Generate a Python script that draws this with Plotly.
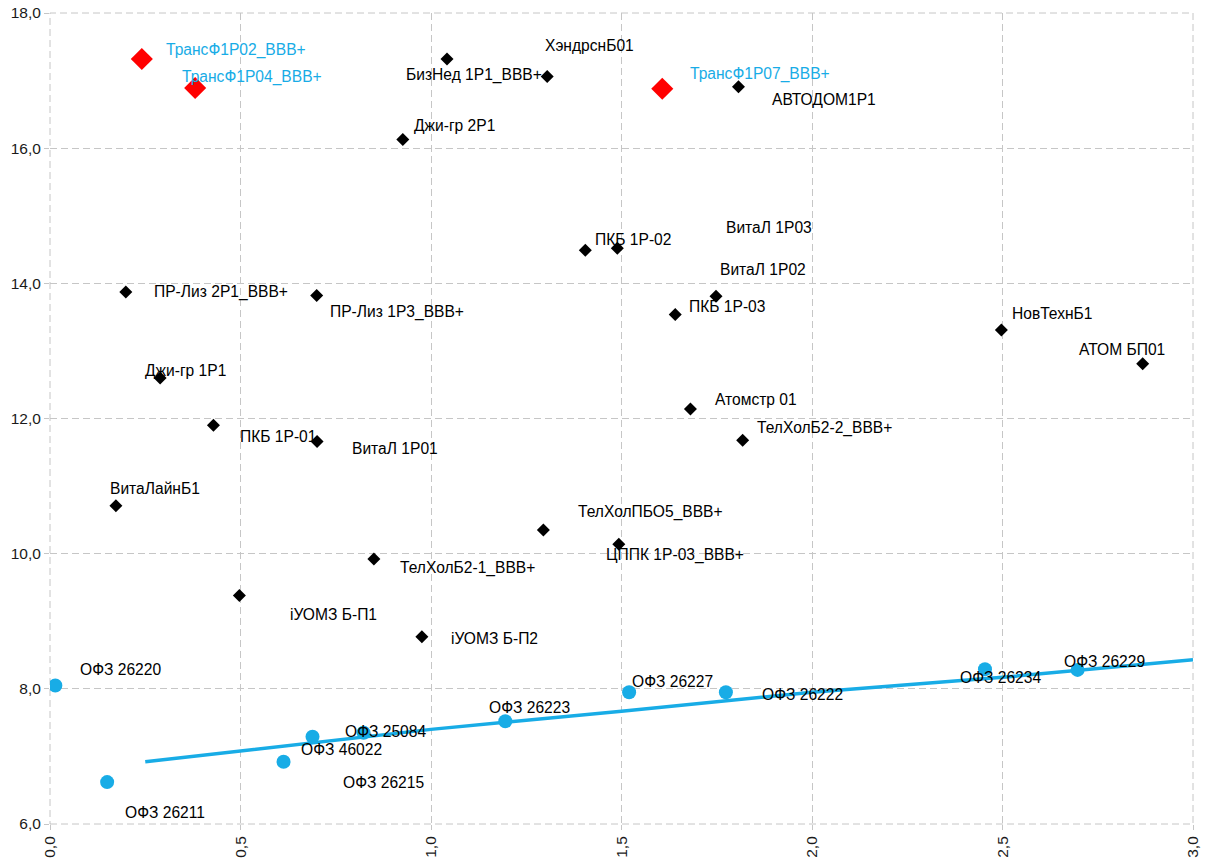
import plotly.graph_objects as go

# ---- data ----
trans_names = ["ТрансФ1Р02_BBB+", "ТрансФ1Р04_BBB+", "ТрансФ1Р07_BBB+"]
trans_x = [0.241, 0.381, 1.607]
trans_y = [17.32, 16.89, 16.88]

corp_names = ["БизНед 1Р1_BBB+", "ХэндрснБ01", "АВТОДОМ1Р1", "Джи-гр 2Р1",
              "ПКБ 1Р-02", "ВитаЛ 1Р03", "ВитаЛ 1Р02", "ПКБ 1Р-03",
              "ПР-Лиз 2Р1_BBB+", "ПР-Лиз 1Р3_BBB+", "НовТехнБ1", "АТОМ БП01",
              "Джи-гр 1Р1", "Атомстр 01", "ПКБ 1Р-01", "ВитаЛ 1Р01",
              "ТелХолБ2-2_BBB+", "ВитаЛайнБ1", "ТелХолПБО5_BBB+", "ЦППК 1Р-03_BBB+",
              "ТелХолБ2-1_BBB+", "iУОМЗ Б-П1", "iУОМЗ Б-П2"]
corp_x = [1.042, 1.305, 1.807, 0.926,
          1.405, 1.489, 1.748, 1.641,
          0.199, 0.700, 2.497, 2.868,
          0.289, 1.681, 0.429, 0.701,
          1.818, 0.173, 1.295, 1.493,
          0.850, 0.497, 0.976]
corp_y = [17.32, 17.06, 16.91, 16.13,
          14.49, 14.52, 13.81, 13.54,
          13.87, 13.82, 13.31, 12.81,
          12.60, 12.14, 11.90, 11.66,
          11.68, 10.71, 10.35, 10.14,
          9.92, 9.38, 8.77]

ofz_names = ["ОФЗ 26220", "ОФЗ 26211", "ОФЗ 26215", "ОФЗ 46022", "ОФЗ 25084",
             "ОФЗ 26223", "ОФЗ 26227", "ОФЗ 26222", "ОФЗ 26234", "ОФЗ 26229"]
ofz_x = [0.014, 0.150, 0.613, 0.689, 0.823, 1.195, 1.520, 1.774, 2.454, 2.697]
ofz_y = [8.05, 6.62, 6.92, 7.29, 7.35, 7.52, 7.95, 7.95, 8.29, 8.28]

curve_x = [0.25, 0.5, 1.0, 1.5, 2.0, 2.5, 3.0]
curve_y = [6.92, 7.08, 7.40, 7.67, 7.95, 8.17, 8.43]

x_ticks = [0.0, 0.5, 1.0, 1.5, 2.0, 2.5, 3.0]
y_ticks = [6.0, 8.0, 10.0, 12.0, 14.0, 16.0, 18.0]

# ---- label pixel offsets (dx right, dy down) ----
trans_off = [(94, -9), (57, -11), (98, -15)]
corp_off = [(27, 16), (42, -31), (86, 13), (52, -14),
            (48, -11), (152, -21), (47, -27), (52, -8),
            (95, 0), (80, 16), (51, -16), (-21, -14),
            (25, -7), (66, -10), (65, 11), (78, 7),
            (82, -12), (39, -17), (107, -18), (56, 11),
            (94, 9), (94, 19), (73, 2)]
ofz_off = [(65, -16), (58, 30), (100, 21), (29, 13), (22, -1),
           (24, -14), (43, -11), (77, 2), (16, 8), (27, -8)]

FONT = "Liberation Sans, Arial, sans-serif"
BLUE = "#18ACE6"
RED = "#FF0000"
GRID = "#C6C6C6"
DASH = "7px,4px"

fig = go.Figure()

fig.add_trace(go.Scatter(x=curve_x, y=curve_y, mode="lines",
                         line=dict(color=BLUE, width=3.5), hoverinfo="skip"))
fig.add_trace(go.Scatter(x=ofz_x, y=ofz_y, mode="markers", text=ofz_names,
                         marker=dict(symbol="circle", size=14, color=BLUE)))
fig.add_trace(go.Scatter(x=corp_x, y=corp_y, mode="markers", text=corp_names,
                         marker=dict(symbol="diamond", size=10, color="#000000")))
fig.add_trace(go.Scatter(x=trans_x, y=trans_y, mode="markers", text=trans_names,
                         marker=dict(symbol="diamond", size=17, color=RED)))

annotations = []
def add_labels(xs, ys, names, offs, color):
    for x, y, n, (dx, dy) in zip(xs, ys, names, offs):
        annotations.append(dict(x=x, y=y, text=n, showarrow=False,
                                xshift=dx, yshift=-dy, xanchor="center", yanchor="middle",
                                font=dict(family=FONT, size=15.6, color=color)))

add_labels(corp_x, corp_y, corp_names, corp_off, "#000000")
add_labels(ofz_x, ofz_y, ofz_names, ofz_off, "#000000")
add_labels(trans_x, trans_y, trans_names, trans_off, BLUE)

grid = dict(showgrid=True, gridcolor=GRID, gridwidth=1, griddash=DASH,
            zeroline=False, showline=False, ticks="outside", ticklen=5,
            tickcolor=GRID, tickformat=".1f", automargin=False,
            tickfont=dict(family=FONT, size=15.5, color="#1a1a1a"))

fig.update_layout(
    width=1206, height=866,
    margin=dict(l=50, r=13, t=13, b=42),
    paper_bgcolor="white", plot_bgcolor="white",
    separators=", ",
    showlegend=False,
    annotations=annotations,
    shapes=[dict(type="rect", xref="paper", yref="paper", x0=0, x1=1, y0=0, y1=1,
                 line=dict(color=GRID, width=1, dash=DASH), layer="below")],
    xaxis=dict(range=[0, 3], tickvals=x_ticks, tickangle=-90, **grid),
    yaxis=dict(range=[6, 18], tickvals=y_ticks, **grid),
)

fig.write_html("out.html")
